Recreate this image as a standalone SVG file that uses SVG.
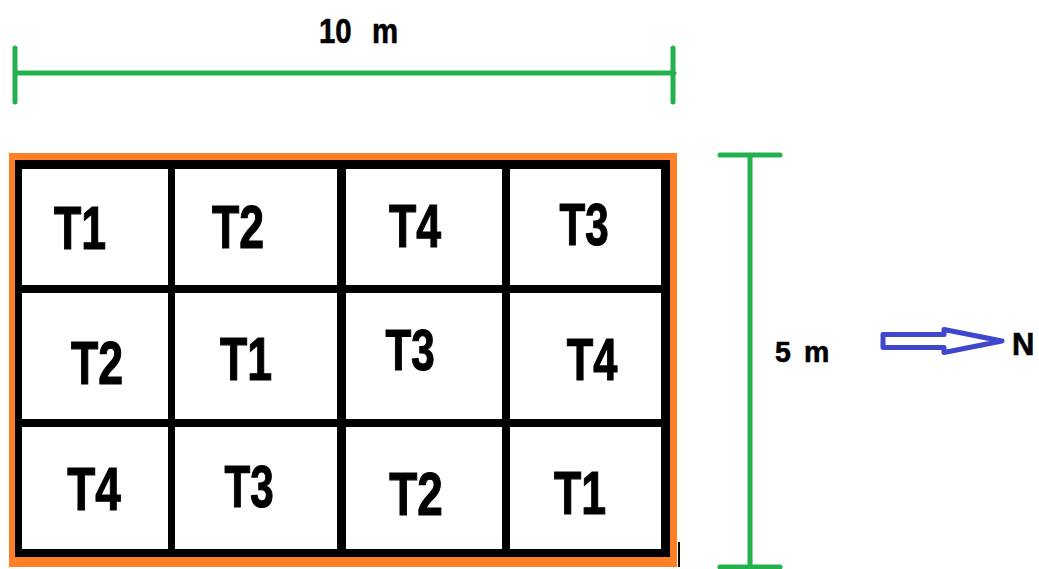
<svg xmlns="http://www.w3.org/2000/svg" width="1039" height="569" viewBox="0 0 1039 569">
<style>
.dim{stroke:#22B14C;stroke-width:5;fill:none;stroke-linecap:round}
.cell{fill:#fff}
.lbl{font-family:"Liberation Sans",Arial,sans-serif;font-weight:bold;font-size:62px;fill:#000;stroke:#000;stroke-width:1.2;text-anchor:middle}
.dtx{font-family:"Liberation Sans",Arial,sans-serif;font-weight:bold;fill:#000;stroke:#000;stroke-width:0.6}
</style>
<rect width="1039" height="569" fill="#fff"/>
<g id="connectors">
<path class="dim" d="M16 73H674M15 48V102M673 48V102"/>
<path class="dim" d="M720 155H780M750 155V569M720 567H780"/>
<polygon points="883,334.5 944,334.5 944,329.5 1002,341 944,352.5 944,347.5 883,347.5" fill="none" stroke="#3F48CC" stroke-width="5" stroke-linejoin="round"/>
</g>
<g id="dim-labels">
<text class="dtx" font-size="35" transform="translate(319,43) scale(0.84,1)">10</text>
<text class="dtx" font-size="35" transform="translate(372,43) scale(0.84,1)">m</text>
<text class="dtx" font-size="30" transform="translate(775,362) scale(0.95,1)">5</text>
<text class="dtx" font-size="30" transform="translate(804,362) scale(0.95,1)">m</text>
<text class="dtx" font-size="31" x="1012" y="355">N</text>
</g>
<g id="plot">
<rect x="9" y="153" width="668" height="414" fill="#FF7F27"/>
<rect x="15" y="160" width="655" height="397" fill="#000"/>
<line x1="679" y1="542" x2="679" y2="567" stroke="#000" stroke-width="2"/>
</g>
<g id="r1c1"><rect class="cell" x="22" y="169" width="146" height="116"/><text class="lbl" transform="translate(80,249) scale(0.72,1)">T1</text></g>
<g id="r1c2"><rect class="cell" x="175" y="169" width="162" height="116"/><text class="lbl" transform="translate(238,248) scale(0.72,1)">T2</text></g>
<g id="r1c3"><rect class="cell" x="346" y="169" width="156" height="116"/><text class="lbl" transform="translate(415,247) scale(0.72,1)">T4</text></g>
<g id="r1c4"><rect class="cell" x="510" y="169" width="151" height="116"/><text class="lbl" transform="translate(584,245) scale(0.68,0.95)">T3</text></g>
<g id="r2c1"><rect class="cell" x="22" y="293" width="146" height="126"/><text class="lbl" transform="translate(97,384) scale(0.72,1)">T2</text></g>
<g id="r2c2"><rect class="cell" x="175" y="293" width="162" height="126"/><text class="lbl" transform="translate(246,380) scale(0.72,1)">T1</text></g>
<g id="r2c3"><rect class="cell" x="346" y="293" width="156" height="126"/><text class="lbl" transform="translate(410,370) scale(0.68,0.92)">T3</text></g>
<g id="r2c4"><rect class="cell" x="510" y="293" width="151" height="126"/><text class="lbl" transform="translate(592,380) scale(0.7,0.97)">T4</text></g>
<g id="r3c1"><rect class="cell" x="22" y="427" width="146" height="122"/><text class="lbl" transform="translate(94,510) scale(0.74,1)">T4</text></g>
<g id="r3c2"><rect class="cell" x="175" y="427" width="162" height="122"/><text class="lbl" transform="translate(249,507) scale(0.68,0.95)">T3</text></g>
<g id="r3c3"><rect class="cell" x="346" y="427" width="156" height="122"/><text class="lbl" transform="translate(416,515) scale(0.74,1)">T2</text></g>
<g id="r3c4"><rect class="cell" x="510" y="427" width="151" height="122"/><text class="lbl" transform="translate(580,514) scale(0.72,1)">T1</text></g>
</svg>
